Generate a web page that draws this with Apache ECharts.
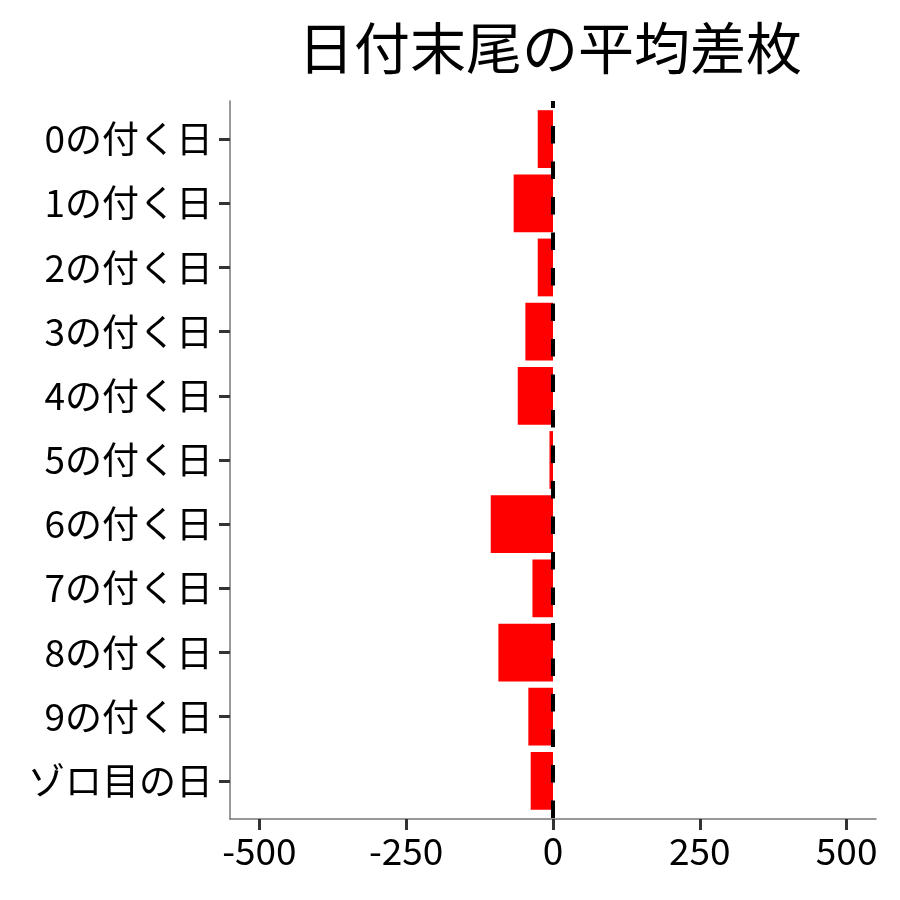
<!DOCTYPE html>
<html>
<head>
<meta charset="utf-8">
<script src="https://cdn.jsdelivr.net/npm/echarts@6/dist/echarts.min.js"></script>
<style>html,body{margin:0;padding:0;background:#fff}#c{width:900px;height:900px}</style>
</head>
<body>
<div id="c"></div>
<script>
const titleText = '日付末尾の平均差枚';
const categories = ['0の付く日','1の付く日','2の付く日','3の付く日','4の付く日','5の付く日','6の付く日','7の付く日','8の付く日','9の付く日','ゾロ目の日'];
const values = [-26, -67, -26, -47, -60, -6, -106, -35, -93, -42, -38];
const xTicks = [-500, -250, 0, 250, 500];
const xMin = -550, xMax = 550;
const refValue = 0;

const font = '"Noto Sans CJK JP", "Noto Sans", sans-serif';
const chart = echarts.init(document.getElementById('c'), null, {renderer: 'canvas'});
chart.setOption({
  animation: false,
  backgroundColor: '#ffffff',
  title: {
    text: titleText,
    left: 545,
    textAlign: 'center',
    top: 15,
    textStyle: {fontFamily: font, fontSize: 56, fontWeight: 'normal', color: '#000'}
  },
  grid: [
    {left: 230, right: 24, top: 107, bottom: 87, containLabel: false},
    {left: 230, right: 24, top: 101, bottom: 81, containLabel: false}
  ],
  xAxis: [
    {gridIndex: 0, type: 'value', min: xMin, max: xMax, show: false},
    {gridIndex: 1, type: 'value', min: xMin, max: xMax,
     axisLine: {show: true, onZero: false, lineStyle: {color: '#777', width: 1.5}},
     axisTick: {show: true, length: 11, lineStyle: {color: '#333', width: 3}, customValues: xTicks},
     axisLabel: {show: true, fontFamily: font, fontSize: 37, color: '#000', margin: 13, customValues: xTicks},
     splitLine: {show: false}}
  ],
  yAxis: [
    {gridIndex: 0, type: 'category', data: categories, inverse: true,
     axisLine: {show: false, onZero: false},
     axisTick: {show: true, length: 11, alignWithLabel: true, lineStyle: {color: '#333', width: 3}},
     axisLabel: {show: true, fontFamily: font, fontSize: 37, color: '#000', margin: 17},
     splitLine: {show: false}},
    {gridIndex: 1, type: 'value', min: 0, max: 1,
     axisLine: {show: true, onZero: false, lineStyle: {color: '#777', width: 1.5}},
     axisTick: {show: false}, axisLabel: {show: false}, splitLine: {show: false}}
  ],
  series: [
    {type: 'bar', xAxisIndex: 0, yAxisIndex: 0, data: values, barWidth: '90%',
     itemStyle: {color: '#ff0000'}, z: 2},
    {type: 'line', xAxisIndex: 1, yAxisIndex: 1, data: [[refValue, 1], [refValue, 0]],
     symbol: 'none', silent: true, z: 5,
     lineStyle: {color: '#000', width: 4, type: [17.5, 18], dashOffset: 10.5}}
  ]
});
</script>
</body>
</html>
